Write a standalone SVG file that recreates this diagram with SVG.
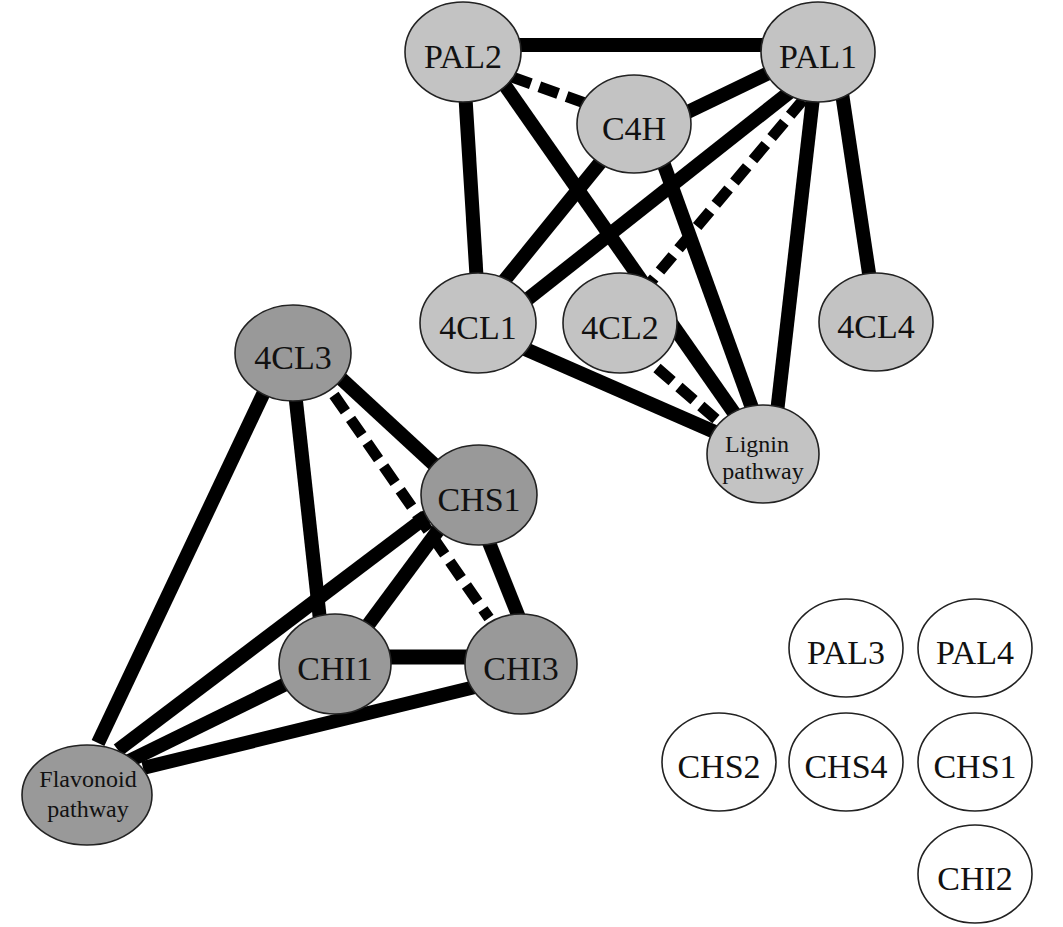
<svg xmlns="http://www.w3.org/2000/svg" width="1063" height="927" viewBox="0 0 1063 927">
<style>
.e{stroke:#000;stroke-width:14;fill:none}
.d{stroke:#000;stroke-width:11;fill:none;stroke-dasharray:20 9}
.n1{fill:#c3c3c3;stroke:#222;stroke-width:1.6}
.n2{fill:#999999;stroke:#222;stroke-width:1.6}
.n3{fill:#fff;stroke:#222;stroke-width:1.6}
text{font-family:"Liberation Serif","Times New Roman",serif;fill:#111;text-anchor:middle}
.l{font-size:34px}
.s{font-size:24px}
</style>
<rect width="1063" height="927" fill="#fff"/>
<g id="connectors">
<line class="e" x1="463" y1="45" x2="818" y2="45"/>
<line class="d" x1="512" y1="77" x2="596" y2="107"/>
<line class="e" x1="465" y1="90" x2="478" y2="300"/>
<line class="e" x1="490" y1="64" x2="760" y2="450"/>
<line class="e" x1="612" y1="148" x2="495" y2="292"/>
<line class="e" x1="800" y1="84" x2="500" y2="321"/>
<line class="e" x1="800" y1="58" x2="640" y2="135"/>
<line class="d" x1="803" y1="100" x2="650" y2="283"/>
<line class="e" x1="655" y1="140" x2="760" y2="430"/>
<line class="e" x1="815" y1="80" x2="775" y2="430"/>
<line class="e" x1="840" y1="80" x2="873" y2="300"/>
<line class="e" x1="500" y1="338" x2="740" y2="443"/>
<line class="d" x1="657" y1="368" x2="717" y2="420"/>
<line class="e" x1="266" y1="388" x2="98" y2="743"/>
<line class="e" x1="295" y1="392" x2="320" y2="620"/>
<line class="d" x1="334" y1="395" x2="489" y2="618"/>
<line class="e" x1="335" y1="373" x2="440" y2="470"/>
<line class="e" x1="430" y1="514" x2="118" y2="750"/>
<line class="e" x1="445" y1="521" x2="368" y2="625"/>
<line class="e" x1="486" y1="535" x2="520" y2="620"/>
<line class="e" x1="380" y1="657" x2="475" y2="657" style="stroke-width:15"/>
<line class="e" x1="290" y1="682" x2="129" y2="761"/>
<line class="e" x1="475" y1="687" x2="143" y2="768"/>
</g>
<g id="PAL2"><ellipse class="n1" cx="463" cy="52" rx="58" ry="50"/><text class="l" x="463" y="68">PAL2</text></g>
<g id="PAL1"><ellipse class="n1" cx="818" cy="52" rx="57" ry="50"/><text class="l" x="818" y="68">PAL1</text></g>
<g id="C4H"><ellipse class="n1" cx="634" cy="124" rx="57" ry="49"/><text class="l" x="634" y="140">C4H</text></g>
<g id="4CL1"><ellipse class="n1" cx="478" cy="323" rx="58" ry="50"/><text class="l" x="478" y="339">4CL1</text></g>
<g id="4CL2"><ellipse class="n1" cx="620" cy="323" rx="57" ry="50"/><text class="l" x="620" y="339">4CL2</text></g>
<g id="4CL4"><ellipse class="n1" cx="876" cy="322" rx="57" ry="49"/><text class="l" x="876" y="338">4CL4</text></g>
<g id="Lignin"><ellipse class="n1" cx="763" cy="454" rx="56" ry="49"/><text class="s" x="757" y="452">Lignin</text><text class="s" x="763" y="479">pathway</text></g>
<g id="4CL3"><ellipse class="n2" cx="293" cy="353" rx="58" ry="48"/><text class="l" x="293" y="369">4CL3</text></g>
<g id="CHS1g"><ellipse class="n2" cx="479" cy="495" rx="58" ry="50"/><text class="l" x="479" y="511">CHS1</text></g>
<g id="CHI1"><ellipse class="n2" cx="335" cy="664" rx="56" ry="50"/><text class="l" x="335" y="680">CHI1</text></g>
<g id="CHI3"><ellipse class="n2" cx="521" cy="664" rx="56" ry="50"/><text class="l" x="521" y="680">CHI3</text></g>
<g id="Flavonoid"><ellipse class="n2" cx="87" cy="795" rx="65" ry="50"/><text class="s" x="88" y="787">Flavonoid</text><text class="s" x="88" y="817">pathway</text></g>
<g id="PAL3"><ellipse class="n3" cx="846" cy="648" rx="57" ry="49"/><text class="l" x="846" y="664">PAL3</text></g>
<g id="PAL4"><ellipse class="n3" cx="975" cy="648" rx="57" ry="49"/><text class="l" x="975" y="664">PAL4</text></g>
<g id="CHS2"><ellipse class="n3" cx="719" cy="762" rx="57" ry="49"/><text class="l" x="719" y="778">CHS2</text></g>
<g id="CHS4"><ellipse class="n3" cx="846" cy="762" rx="57" ry="49"/><text class="l" x="846" y="778">CHS4</text></g>
<g id="CHS1w"><ellipse class="n3" cx="975" cy="762" rx="57" ry="49"/><text class="l" x="975" y="778">CHS1</text></g>
<g id="CHI2"><ellipse class="n3" cx="975" cy="874" rx="57" ry="49"/><text class="l" x="975" y="890">CHI2</text></g>
</svg>
